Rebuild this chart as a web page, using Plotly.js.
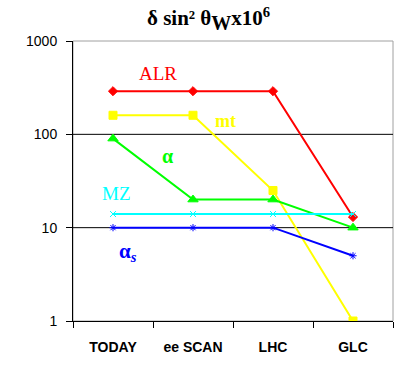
<!DOCTYPE html>
<html><head><meta charset="utf-8">
<script src="https://cdn.plot.ly/plotly-3.0.1.min.js"></script>
<style>body{margin:0;background:#fff}#c{width:409px;height:368px}</style>
</head><body><div id="c"></div>
<script>
const categories = ["TODAY", "ee SCAN", "LHC", "GLC"];
const ALR = [290, 290, 290, 13];
const mt = [160, 160, 25, 1];
const alpha = [90, 20, 20, 10];
const MZ = [14, 14, 14, 14];
const alphaS = [10, 10, 10, 5];
const yTicks = [1, 10, 100, 1000];

function tr(y, color, symbol, size) {
  return {x: categories, y: y, type: "scatter", mode: "lines+markers",
    line: {color: color, width: 2}, marker: {color: color, symbol: symbol, size: size, line: {color: color, width: 1}},
    showlegend: false, hoverinfo: "skip"};
}
const data = [
  tr(ALR, "#ff0000", "diamond", 7),
  tr(mt, "#ffff00", "square", 8),
  tr(alpha, "#00ff00", "triangle-up", 9),
  tr(MZ, "#00ffff", "x-thin-open", 6),
  tr(alphaS, "#0000ff", "asterisk-open", 6)
];
const serif = "Liberation Serif, Times New Roman, serif";
const layout = {
  width: 409, height: 368,
  margin: {l: 73, r: 16, t: 41, b: 47},
  paper_bgcolor: "#fff", plot_bgcolor: "#fff",
  title: {text: "<b>δ sin² θ<sub><span style='font-size:20px'>W</span></sub>x10<sup>6</sup></b>", x: 0.51, xanchor: "center", y: 1 - 18/368, yanchor: "middle",
    font: {family: serif, size: 21, color: "#000"}},
  xaxis: {type: "category", range: [-0.5, 3.5], tickson: "boundaries", ticks: "outside", ticklen: 6, tickcolor: "#000",
    showline: true, linecolor: "#000", linewidth: 1, showgrid: false, zeroline: false, fixedrange: true,
    ticklabelstandoff: 13,
    tickfont: {family: "Liberation Sans, Arial, sans-serif", size: 14, color: "#000", weight: "bold"}},
  yaxis: {type: "log", range: [0, 3], tickmode: "array", tickvals: yTicks, ticktext: yTicks.map(String),
    ticks: "outside", ticklen: 6, tickcolor: "#000", showline: true, linecolor: "#000", linewidth: 1,
    showgrid: false, zeroline: false, fixedrange: true, ticklabelstandoff: 6,
    tickfont: {family: "Liberation Sans, Arial, sans-serif", size: 14, color: "#000"}},
  shapes: [
    {type: "rect", xref: "paper", yref: "paper", x0: 0, x1: 1, y0: 0, y1: 1, line: {color: "#a0a0a0", width: 1}, layer: "below"},
    {type: "line", xref: "paper", yref: "y", x0: 0, x1: 1, y0: 10, y1: 10, line: {color: "#000", width: 1}, layer: "below"},
    {type: "line", xref: "paper", yref: "y", x0: 0, x1: 1, y0: 100, y1: 100, line: {color: "#000", width: 1}, layer: "below"}
  ],
  annotations: [
    {text: "ALR", x: 0.5625, y: 2.657, xref: "x", yref: "y", showarrow: false, font: {family: serif, size: 19, color: "#ff0000"}},
    {text: "<b>mt</b>", x: 1.4, y: 2.143, xref: "x", yref: "y", showarrow: false, font: {family: serif, size: 18, color: "#ffff00"}},
    {text: "<b>α</b>", x: 0.675, y: 1.768, xref: "x", yref: "y", showarrow: false, font: {family: serif, size: 20, color: "#00ff00"}},
    {text: "MZ", x: 0.0375, y: 1.371, xref: "x", yref: "y", showarrow: false, font: {family: serif, size: 19, color: "#00ffff"}},
    {text: "<b>α<sub><i>s</i></sub></b>", x: 0.19, y: 0.739, xref: "x", yref: "y", showarrow: false, font: {family: serif, size: 21, color: "#0000ff"}}
  ]
};
Plotly.newPlot("c", data, layout, {displayModeBar: false, staticPlot: true});
</script></body></html>
